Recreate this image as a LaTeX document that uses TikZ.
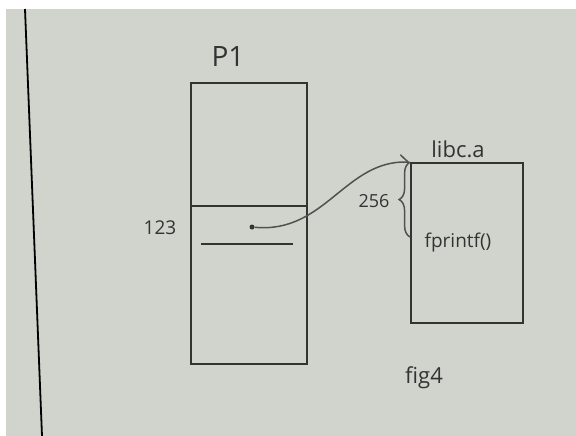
\documentclass[tikz,border=0pt]{standalone}
\usepackage{fontspec}
\setmainfont{Open Sans}
\definecolor{board}{RGB}{208, 212, 205}
\definecolor{marker}{RGB}{50, 52, 50}
\definecolor{softmarker}{RGB}{80, 82, 80}
\usetikzlibrary{arrows.meta, decorations.pathreplacing, calc}
\tikzset{
	pen/.style={draw=marker, line width=1.8pt},
	membox/.style={rectangle, draw=marker, line width=1.8pt, inner sep=0pt},
	hand/.style={text=marker, inner sep=0pt, font=\fontsize{18}{20}\selectfont},
	dot/.style={circle, fill=marker, inner sep=0pt, minimum size=5pt},
	link/.style={-{Straight Barb[left, length=8pt, width=14pt]}, draw=softmarker, line width=1.5pt},
	bracket/.style={decorate, decoration={brace, amplitude=11pt}, draw=softmarker, line width=1.5pt},
}

\begin{document}
\begin{tikzpicture}[x=1pt, y=-1pt]
		\useasboundingbox (0,0) rectangle (576,436);
		\fill[white] (0,0) rectangle (576,436);
		\fill[board] (6,9) rectangle (576,436);
		\draw[black, line width=1.8pt] (25,9) -- (42,436);
		% process image
		\node[membox, minimum width=116pt, minimum height=281pt] (p1) at (249,223.5) {};
		\node[hand, font=\fontsize{28}{30}\selectfont] (p1lbl) at (228,57) {P1};
		\draw[pen] (p1.west |- 0,206) -- (p1.east |- 0,206);
		\draw[pen] (201,244) -- (293,244);
		\node[hand, font=\fontsize{19}{21}\selectfont] (addr) at (160,228) {123};
		\node[dot] (ptr) at (252,227) {};
		% library
		\node[membox, minimum width=112pt, minimum height=160pt] (libc) at (467,243) {};
		\node[hand, font=\fontsize{22}{24}\selectfont] (libclbl) at (458,149) {libc.a};
		\node[hand, font=\fontsize{19}{21}\selectfont] (fprintf) at (458,243) {fprintf()};
		\coordinate (fentry) at (libc.west |- 0,237);
		\draw[bracket] (fentry) -- (libc.north west);
		\node[hand] (offset) at (374,201) {256};
		\draw[link] (ptr) .. controls (325,234) and (345,160) .. (libc.north west);
		\node[hand, font=\fontsize{22}{24}\selectfont] (fig) at (424,378) {fig4};
	\end{tikzpicture}
\end{document}
